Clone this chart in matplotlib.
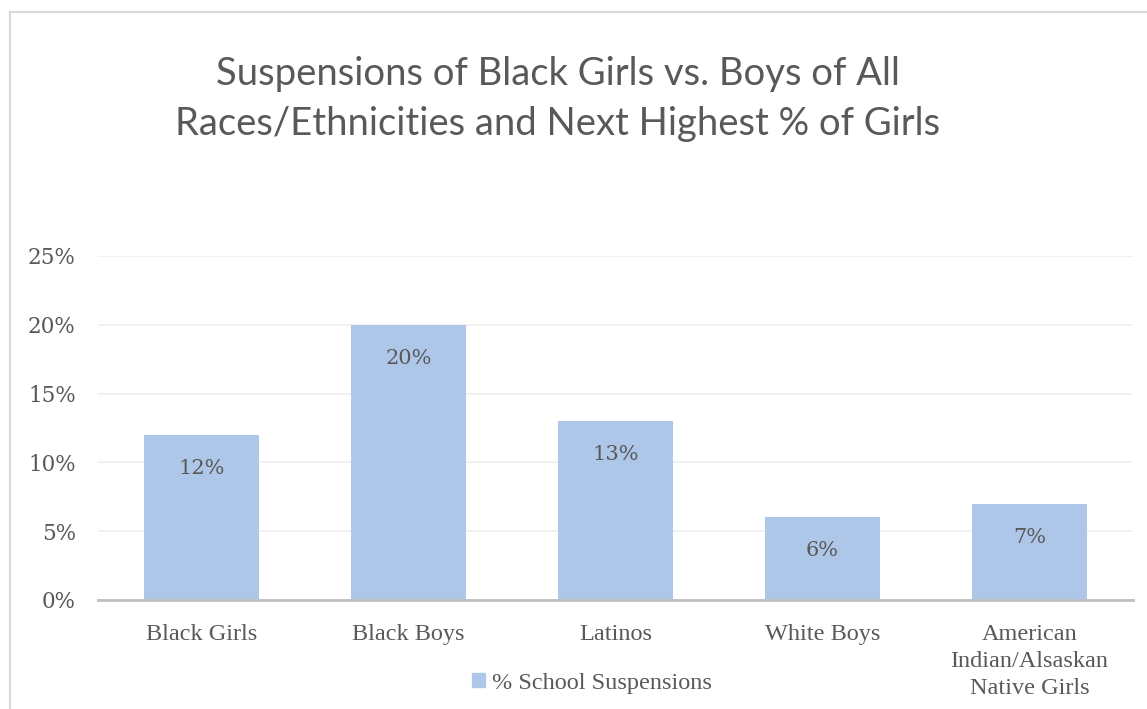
import matplotlib

matplotlib.use("Agg")
import matplotlib.pyplot as plt
from matplotlib.lines import Line2D
from matplotlib.patches import Patch

categories = ["Black Girls", "Black Boys", "Latinos", "White Boys",
              "American\nIndian/Alsaskan\nNative Girls"]
suspensions = [12, 20, 13, 6, 7]
yticks = [0, 5, 10, 15, 20, 25]
series_name = "% School Suspensions"
title = ("Suspensions of Black Girls vs. Boys of All\n"
         "Races/Ethnicities and Next Highest % of Girls")

W, H = 1147, 709
BAR = "#AEC7E8"
TXT = "#595959"
SERIF = "Liberation Serif"
WIDE = "DejaVu Serif"

fig = plt.figure(figsize=(W / 100, H / 100), dpi=100)
ax = fig.add_axes([98 / W, 1 - 600 / H, (1133 - 98) / W, (600 - 256) / H])

x = range(len(categories))
ax.bar(x, suspensions, width=0.555, color=BAR, zorder=2)
ax.set_xlim(-0.5, len(categories) - 0.5)
ax.set_ylim(0, 25)
ax.set_yticks(yticks)
ax.set_yticklabels([f"{t}%" for t in yticks], family=WIDE, fontsize=15.5, color=TXT)
ax.set_xticks(list(x))
ax.set_xticklabels(categories, family=SERIF, fontsize=17.5, color=TXT,
                   linespacing=1.38, va="top")
ax.tick_params(length=0, pad=16, axis="y")
ax.tick_params(length=0, pad=17, axis="x")
ax.grid(axis="y", color="#EFEFEF", lw=1.2, zorder=0)
for s in ["top", "right", "left"]:
    ax.spines[s].set_visible(False)
ax.spines["bottom"].set_color("#BFBFBF")
ax.spines["bottom"].set_linewidth(2)
ax.spines["bottom"].set_zorder(3)

for i, v in enumerate(suspensions):
    ax.annotate(f"{v}%", (i, v), xytext=(0, -24), textcoords="offset points",
                ha="center", va="center", family=WIDE, fontsize=15, color=TXT)

fig.text(558 / W, 1 - 99 / H, title, ha="center", va="center",
         family="Lato", fontsize=27.5, color=TXT, linespacing=1.5)

# legend
leg = fig.legend(handles=[Patch(color=BAR)], labels=[series_name],
                 loc="center", bbox_to_anchor=(592 / W, 1 - 683 / H),
                 frameon=False, handlelength=0.55, handleheight=0.55,
                 handletextpad=0.3, prop={"family": SERIF, "size": 17.5})
for t in leg.get_texts():
    t.set_color(TXT)

# chart frame (cropped at right/bottom)
fig.add_artist(Line2D([10 / W, 1], [1 - 12 / H, 1 - 12 / H], color="#D9D9D9", lw=1.5))
fig.add_artist(Line2D([10 / W, 10 / W], [0, 1 - 12 / H], color="#D9D9D9", lw=1.5))

fig.savefig("out.png", dpi=100)
